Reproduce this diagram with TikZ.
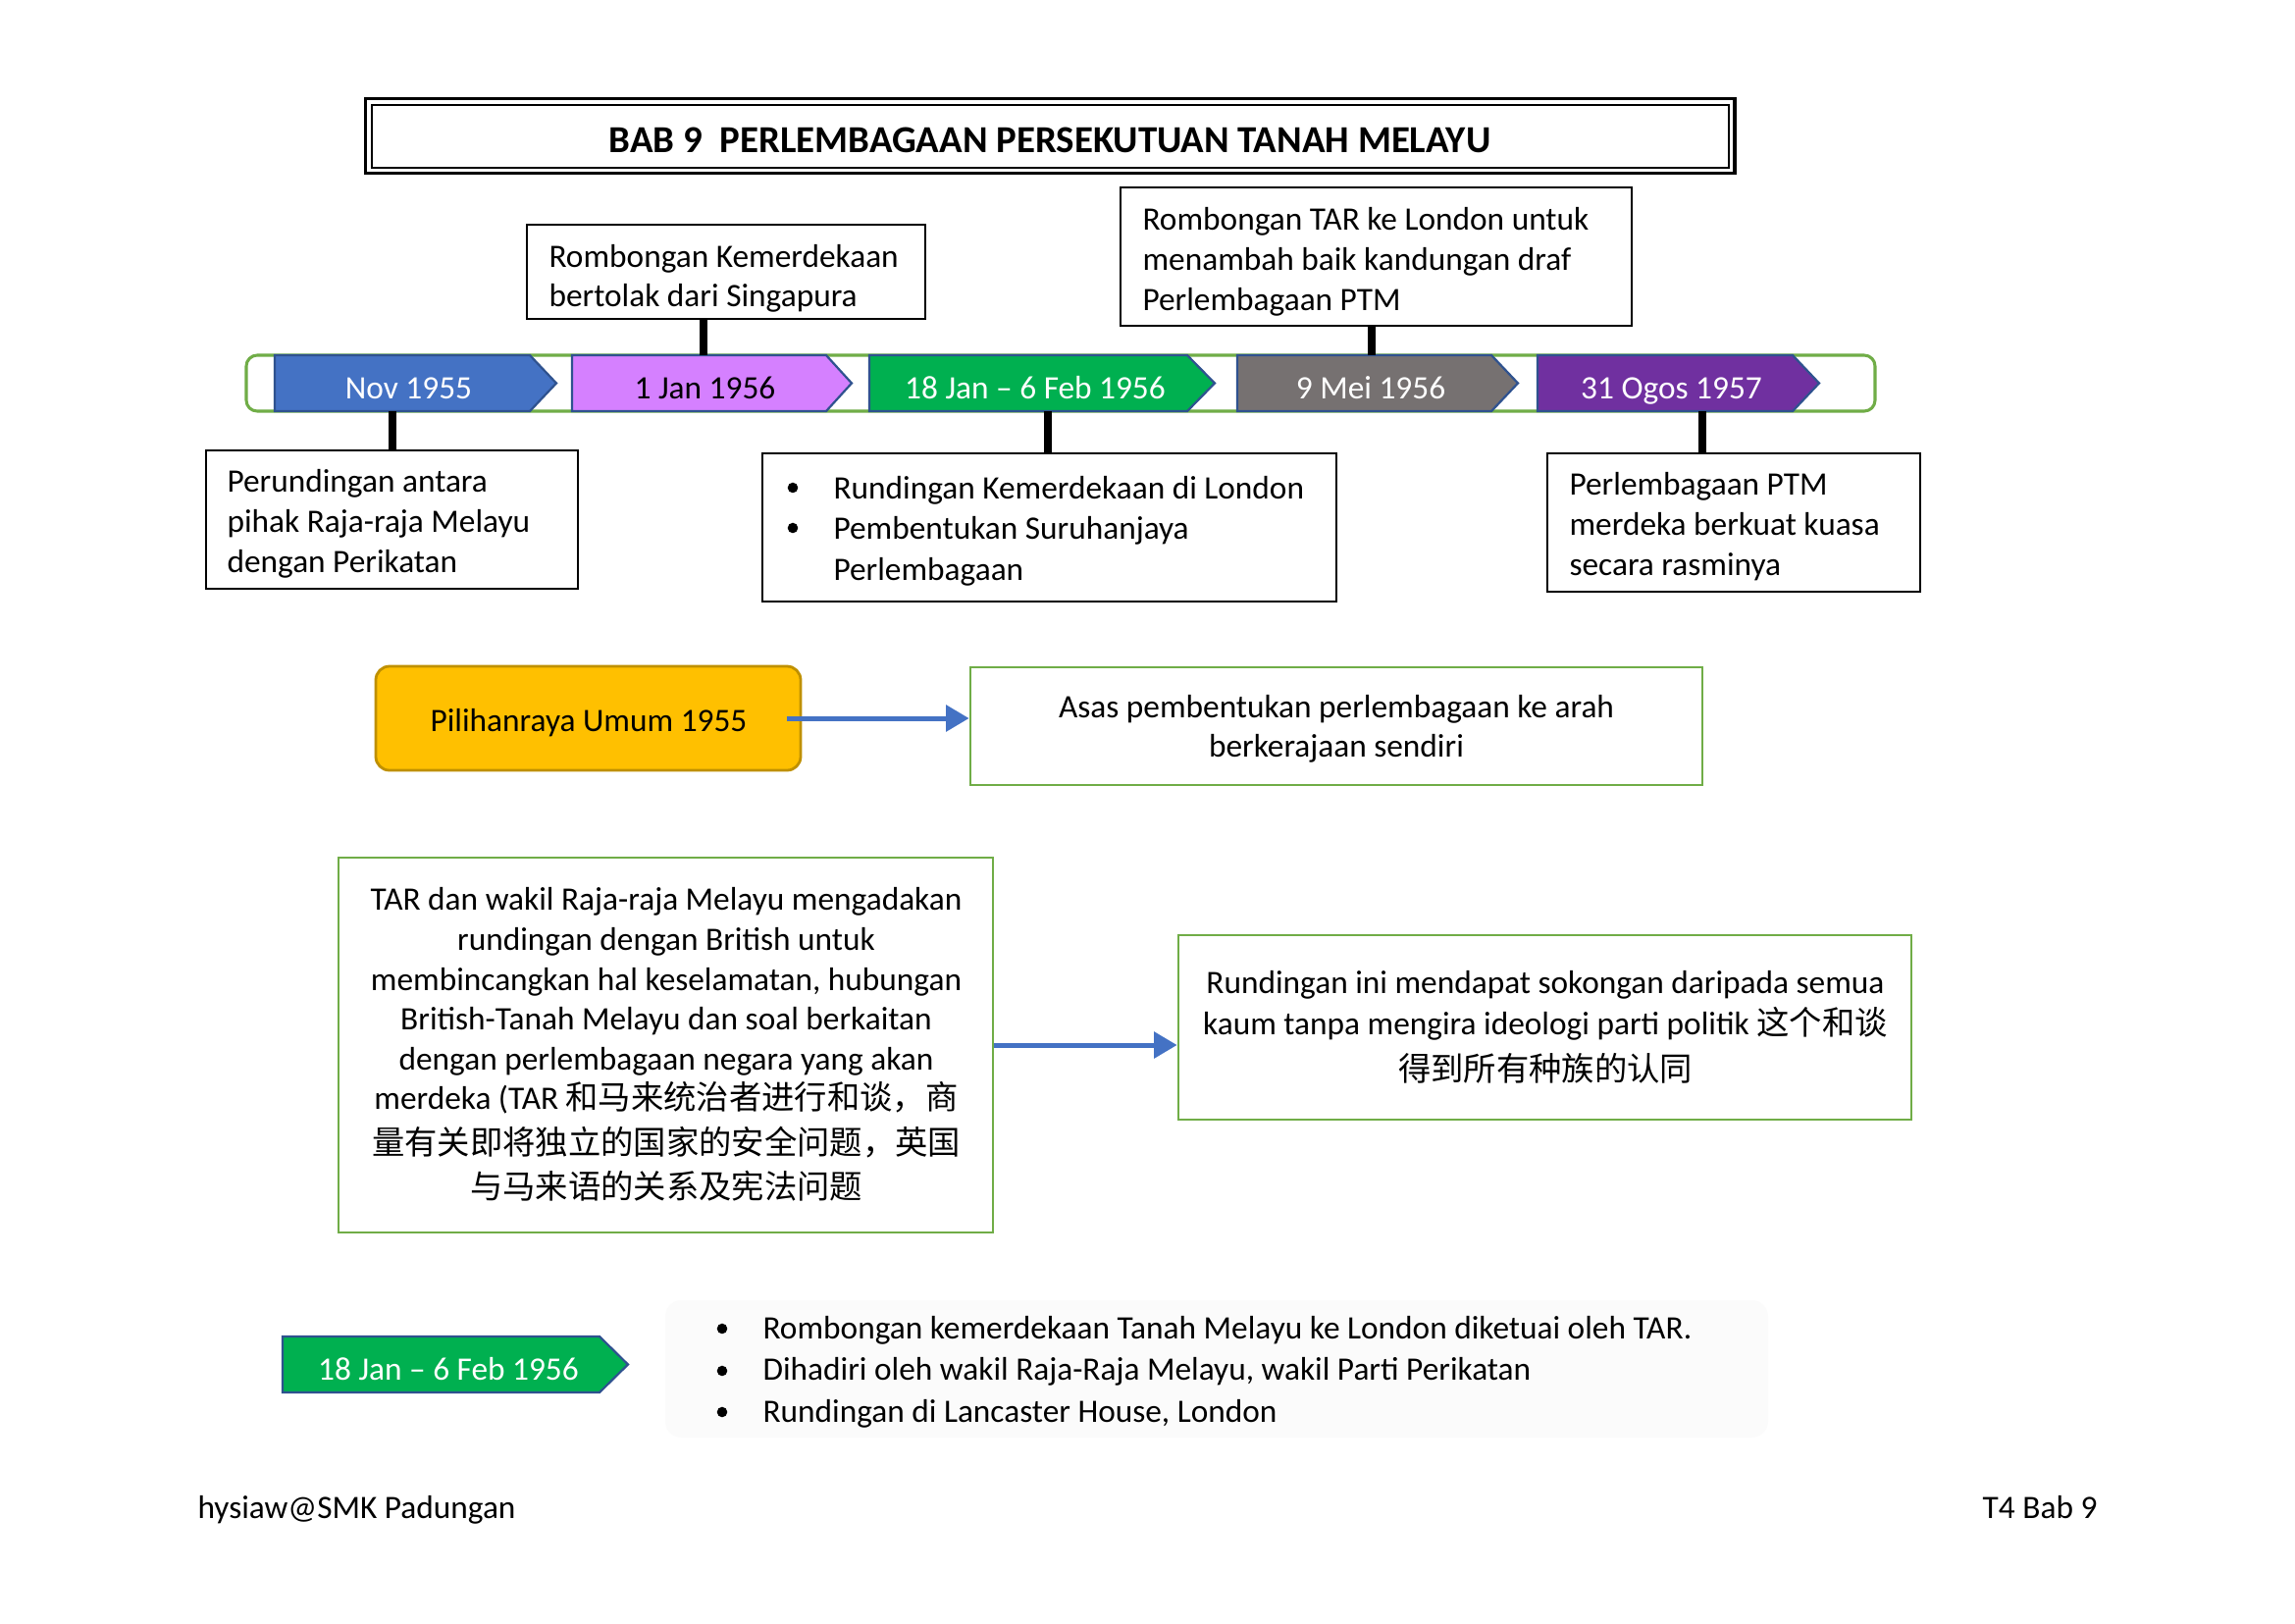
\documentclass[tikz,border=0pt]{standalone}
\usepackage{fontspec}
\setmainfont{Carlito}
\newfontfamily\cjk{Noto Sans CJK SC}
\usetikzlibrary{arrows.meta,fit}
\definecolor{cBlue}{HTML}{4472C4}
\definecolor{cPink}{HTML}{D580FF}
\definecolor{cGreen}{HTML}{00B050}
\definecolor{cGrey}{HTML}{767171}
\definecolor{cPurple}{HTML}{7030A0}
\definecolor{cChevLine}{HTML}{2F528F}
\definecolor{cYellow}{HTML}{FFC000}
\definecolor{cYellowLine}{HTML}{BF9000}
\definecolor{cGreenLine}{HTML}{70AD47}
\definecolor{cFaint}{HTML}{FBFBFB}
\begin{document}
\begin{tikzpicture}[x=0.36pt,y=-0.36pt,
  txt/.style={inner sep=0pt, font=\fontsize{12}{14.6}\selectfont},
  wtxt/.style={txt, text=white},
  lbox/.style={draw=black, line width=0.6pt, inner sep=0pt},
  gbox/.style={draw=cGreenLine, line width=1pt, inner sep=0pt},
  conn/.style={line width=2.8pt},
  barrow/.style={draw=cBlue, line width=1.8pt, -{Triangle[length=8.5pt,width=9.5pt]}},
  chev/.style={draw=cChevLine, line width=0.8pt},
  bul/.style={fill=black}]
\useasboundingbox (0,0) rectangle (2339,1654);
\fill[white] (0,0) rectangle (2339,1654);

% title
\node[draw=black, line width=1.4pt, inner sep=0pt, fit={(372.5,100.5)(1768,176.5)}] (ttlbox) {};
\draw[line width=0.7pt] (379,107) rectangle (1762,171);
\node[inner sep=0pt, anchor=base, font=\bfseries\fontsize{14}{17}\selectfont] (ttl) at (1070,155) {BAB 9\ \ PERLEMBAGAAN PERSEKUTUAN TANAH MELAYU};

% timeline bar
\draw[draw=cGreenLine, line width=1.1pt, rounded corners=4pt] (251,362) rectangle (1911,419);
\draw[chev, fill=cBlue]   (280,362) -- (540,362) -- (567,390.5) -- (540,419) -- (280,419) -- cycle;
\draw[chev, fill=cPink]   (583,362) -- (842,362) -- (868,390.5) -- (842,419) -- (583,419) -- cycle;
\draw[chev, fill=cGreen]  (886,362) -- (1210,362) -- (1238,390.5) -- (1210,419) -- (886,419) -- cycle;
\draw[chev, fill=cGrey]   (1261,362) -- (1520,362) -- (1547,390.5) -- (1520,419) -- (1261,419) -- cycle;
\draw[chev, fill=cPurple] (1567,362) -- (1827,362) -- (1854,390.5) -- (1827,419) -- (1567,419) -- cycle;
\node[wtxt, anchor=base] (c1) at (416.5,406) {Nov 1955};
\node[txt, anchor=base] (c2) at (718.5,406) {1 Jan 1956};
\node[wtxt, anchor=base] (c3) at (1055,406) {18 Jan – 6 Feb 1956};
\node[wtxt, anchor=base] (c4) at (1397,406) {9 Mei 1956};
\node[wtxt, anchor=base] (c5) at (1703.5,406) {31 Ogos 1957};

% boxes above
\node[lbox, fit={(537,229)(943,325)}] (t1) {};
\node[txt, anchor=base west, align=left] (t1t) at (559,312.6) {Rombongan Kemerdekaan\\bertolak dari Singapura};
\node[lbox, fit={(1142,191)(1663,332)}] (t2) {};
\node[txt, anchor=base west, align=left] (t2t) at (1164,316) {Rombongan TAR ke London untuk\\menambah baik kandungan draf\\Perlembagaan PTM};

% boxes below
\node[lbox, fit={(210,459)(589,600)}] (b1) {};
\node[txt, anchor=base west, align=left] (b1t) at (231,583) {Perundingan antara\\pihak Raja-raja Melayu\\dengan Perikatan};
\node[lbox, fit={(777,462)(1362,613)}] (b2) {};
\node[txt, anchor=base west, align=left, font=\fontsize{12}{14.9}\selectfont] (b2t) at (849,591) {Rundingan Kemerdekaan di London\\Pembentukan Suruhanjaya\\Perlembagaan};
\fill[bul] (808,497) circle (1.9pt);
\fill[bul] (808,538) circle (1.9pt);
\node[lbox, fit={(1577,462)(1957,603)}] (b3) {};
\node[txt, anchor=base west, align=left] (b3t) at (1599,586) {Perlembagaan PTM\\merdeka berkuat kuasa\\secara rasminya};

% connectors
\coordinate (c1b) at (400,419);
\coordinate (c2t) at (717,362);
\coordinate (c3b) at (1068,419);
\coordinate (c4t) at (1398,362);
\coordinate (c5b) at (1735,419);
\draw[conn] (c1b) -- (c1b |- b1.north);
\draw[conn] (c2t) -- (c2t |- t1.south);
\draw[conn] (c3b) -- (c3b |- b2.north);
\draw[conn] (c4t) -- (c4t |- t2.south);
\draw[conn] (c5b) -- (c5b |- b3.north);

% middle
\node[draw=cYellowLine, fill=cYellow, line width=1pt, rounded corners=5pt, inner sep=0pt, fit={(383,679)(816,785)}] (pil) {};
\node[txt, anchor=base] (pilt) at (600,745) {Pilihanraya Umum 1955};
\node[gbox, fit={(989,680)(1735,800)}] (asas) {};
\node[txt, anchor=base, align=center] (asast) at (1362,771.6) {Asas pembentukan perlembagaan ke arah\\berkerajaan sendiri};
\draw[barrow] ([xshift=-5.5pt]pil.east) -- (pil.east -| asas.west);

\node[gbox, fit={(345,874)(1012,1256)}] (big) {};
\node[txt, anchor=base, align=center] (bigt) at (679,1221.3) {TAR dan wakil Raja-raja Melayu mengadakan\\rundingan dengan British untuk\\membincangkan hal keselamatan, hubungan\\British-Tanah Melayu dan soal berkaitan\\dengan perlembagaan negara yang akan\\merdeka (TAR {\cjk 和马来统治者进行和谈，商}\\[1.8pt]{\cjk 量有关即将独立的国家的安全问题，英国}\\[1.6pt]{\cjk 与马来语的关系及宪法问题}};
\node[gbox, fit={(1201,953)(1948,1141)}] (rt) {};
\node[txt, anchor=base, align=center, font=\fontsize{12}{15.1}\selectfont] (rtt) at (1575,1101) {Rundingan ini mendapat sokongan daripada semua\\kaum tanpa mengira ideologi parti politik {\cjk 这个和谈}\\[1.5pt]{\cjk 得到所有种族的认同}};
\draw[barrow] (big.east) -- (big.east -| rt.west);

% bottom
\fill[cFaint, rounded corners=6pt] (678,1325) rectangle (1802,1465);
\draw[chev, fill=cGreen] (288,1362) -- (611,1362) -- (640,1390.5) -- (611,1419) -- (288,1419) -- cycle;
\node[wtxt, anchor=base] (c6) at (457,1406) {18 Jan – 6 Feb 1956};
\node[txt, anchor=base west, align=left, font=\fontsize{12}{15.3}\selectfont] (bl) at (777,1449) {Rombongan kemerdekaan Tanah Melayu ke London diketuai oleh TAR.\\Dihadiri oleh wakil Raja-Raja Melayu, wakil Parti Perikatan\\Rundingan di Lancaster House, London};
\fill[bul] (736,1354) circle (1.9pt);
\fill[bul] (736,1397) circle (1.9pt);
\fill[bul] (736,1439) circle (1.9pt);

% footer
\node[txt, anchor=base west] (fl) at (201,1547) {hysiaw@SMK Padungan};
\node[txt, anchor=base east] (fr) at (2138,1547) {T4 Bab 9};
\end{tikzpicture}
\end{document}
